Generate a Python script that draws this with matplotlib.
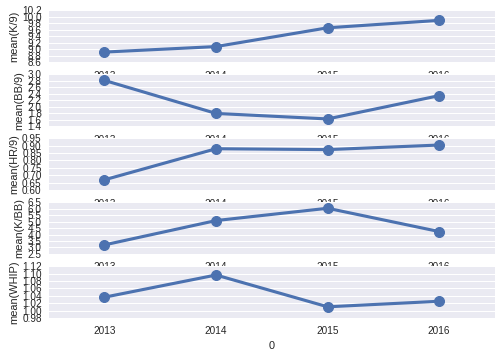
import matplotlib
matplotlib.use("Agg")
import matplotlib.pyplot as plt
import numpy as np

years = ["2013", "2014", "2015", "2016"]

k9 = [8.91, 9.08, 9.66, 9.89]
bb9 = [2.81, 1.79, 1.62, 2.34]
hr9 = [0.669, 0.879, 0.873, 0.904]
kbb = [3.20, 5.08, 6.03, 4.23]
whip = [1.036, 1.096, 1.010, 1.025]

labels = ["mean(K/9)", "mean(BB/9)", "mean(HR/9)", "mean(K/BB)", "mean(WHIP)"]
series = [k9, bb9, hr9, kbb, whip]
yticks = [
    np.arange(8.6, 10.21, 0.2),
    np.arange(1.4, 3.01, 0.2),
    np.arange(0.60, 0.951, 0.05),
    np.arange(2.5, 6.51, 0.5),
    np.arange(0.98, 1.121, 0.02),
]
tick_fmt = ["%.1f", "%.1f", "%.2f", "%.1f", "%.2f"]

plt.rcParams["font.family"] = ["Liberation Sans", "DejaVu Sans"]
plt.rcParams["text.color"] = "#262626"
plt.rcParams["axes.labelcolor"] = "#262626"
plt.rcParams["xtick.color"] = "#262626"
plt.rcParams["ytick.color"] = "#262626"

fig, axes = plt.subplots(5, 1, figsize=(502 / 72, 356 / 72), dpi=72)
fig.subplots_adjust(left=0.097, right=0.986, top=0.971, bottom=0.107, hspace=0.235)

for ax, vals, lab, ticks, fmt in zip(axes, series, labels, yticks, tick_fmt):
    ax.set_facecolor("#EAEAF2")
    for s in ax.spines.values():
        s.set_visible(False)
    ax.grid(True, axis="y", color="white", linewidth=1)
    ax.set_axisbelow(True)
    ax.plot(range(len(years)), vals, color="#4C72B0", linewidth=3.1,
            marker="o", markersize=10)
    ax.set_xlim(-0.5, len(years) - 0.5)
    ax.set_xticks(range(len(years)))
    ax.set_xticklabels(years, fontsize=10)
    ax.set_ylim(ticks[0], ticks[-1])
    ax.set_yticks(ticks)
    ax.set_yticklabels([fmt % t for t in ticks], fontsize=10)
    ax.tick_params(axis="y", length=0, pad=7)
    ax.tick_params(axis="x", length=0, pad=8.5)
    ax.set_ylabel(lab, fontsize=11, labelpad=3)

axes[-1].set_xlabel("0", fontsize=11, labelpad=5)

fig.savefig("out.png", dpi=72)
